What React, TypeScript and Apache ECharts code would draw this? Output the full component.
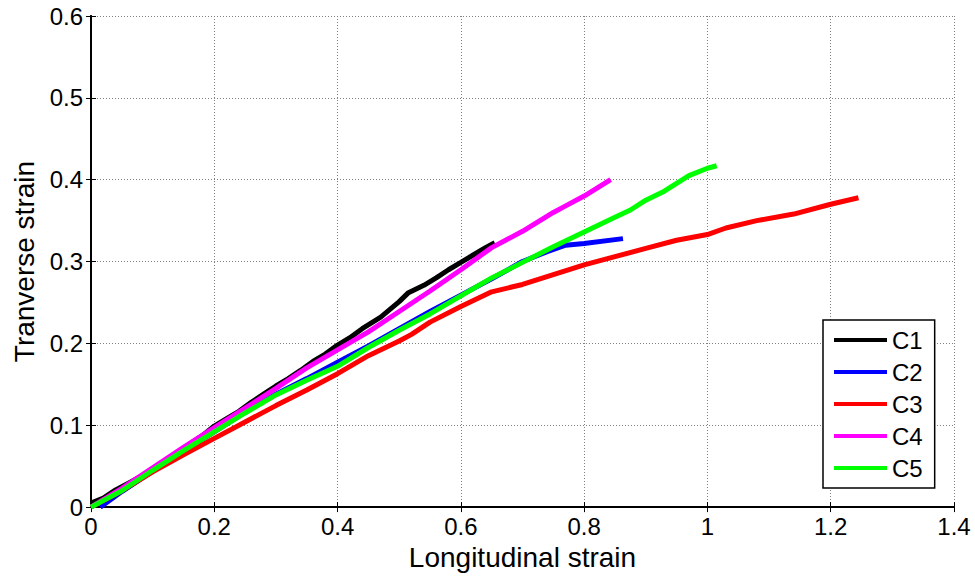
import React, { useEffect, useRef } from "react";
import * as echarts from "echarts";

const xTicks = [0, 0.2, 0.4, 0.6, 0.8, 1.0, 1.2, 1.4];
const yTicks = [0, 0.1, 0.2, 0.3, 0.4, 0.5, 0.6];

const c1: [number, number][] = [
  [0, 0.005], [0.02, 0.011], [0.04, 0.021], [0.06, 0.029], [0.08, 0.037], [0.1, 0.047],
  [0.12, 0.056], [0.14, 0.067], [0.16, 0.077], [0.18, 0.087], [0.2, 0.099], [0.22, 0.108],
  [0.24, 0.117], [0.26, 0.128], [0.28, 0.138], [0.3, 0.148], [0.32, 0.157], [0.34, 0.167],
  [0.36, 0.178], [0.38, 0.187], [0.4, 0.198], [0.42, 0.207], [0.44, 0.218], [0.47, 0.232],
  [0.5, 0.251], [0.515, 0.262], [0.54, 0.271], [0.56, 0.28], [0.58, 0.29], [0.6, 0.299],
  [0.62, 0.308], [0.64, 0.317], [0.655, 0.323],
];
const c2: [number, number][] = [
  [0.015, 0], [0.05, 0.019], [0.1, 0.044], [0.15, 0.069], [0.2, 0.092], [0.25, 0.116],
  [0.3, 0.138], [0.35, 0.157], [0.4, 0.177], [0.45, 0.197], [0.5, 0.218], [0.55, 0.239],
  [0.6, 0.259], [0.65, 0.279], [0.7, 0.3], [0.74, 0.312], [0.77, 0.32], [0.8, 0.322],
  [0.863, 0.328],
];
const c3: [number, number][] = [
  [0, 0], [0.05, 0.02], [0.1, 0.043], [0.15, 0.064], [0.2, 0.084], [0.25, 0.104],
  [0.3, 0.124], [0.35, 0.143], [0.4, 0.163], [0.45, 0.185], [0.5, 0.203], [0.52, 0.211],
  [0.55, 0.226], [0.6, 0.245], [0.65, 0.263], [0.7, 0.272], [0.75, 0.284], [0.8, 0.296],
  [0.85, 0.306], [0.9, 0.316], [0.95, 0.326], [1.0, 0.333], [1.03, 0.341], [1.08, 0.35],
  [1.14, 0.358], [1.2, 0.37], [1.245, 0.378],
];
const c4: [number, number][] = [
  [0, 0], [0.05, 0.023], [0.1, 0.048], [0.15, 0.073], [0.2, 0.097], [0.25, 0.121],
  [0.3, 0.145], [0.35, 0.17], [0.4, 0.192], [0.45, 0.214], [0.5, 0.239], [0.55, 0.264],
  [0.6, 0.29], [0.65, 0.317], [0.7, 0.337], [0.75, 0.36], [0.77, 0.368], [0.8, 0.38],
  [0.843, 0.4],
];
const c5: [number, number][] = [
  [0, 0], [0.05, 0.02], [0.1, 0.045], [0.15, 0.069], [0.2, 0.092], [0.25, 0.115],
  [0.3, 0.137], [0.35, 0.155], [0.4, 0.172], [0.45, 0.195], [0.5, 0.216], [0.55, 0.236],
  [0.6, 0.258], [0.65, 0.28], [0.7, 0.299], [0.75, 0.318], [0.8, 0.336], [0.85, 0.354],
  [0.875, 0.363], [0.9, 0.375], [0.93, 0.386], [0.97, 0.405], [1.0, 0.414], [1.015, 0.417],
];

const seriesNames = ["C1", "C2", "C3", "C4", "C5"];
const seriesColors = ["#000000", "#0000ff", "#ff0000", "#ff00ff", "#00ff00"];
const seriesData = [c1, c2, c3, c4, c5];

const FONT = "Arial, 'Liberation Sans', sans-serif";

export default function App() {
  const ref = useRef<HTMLDivElement>(null);
  useEffect(() => {
    if (!ref.current) return;
    const chart = echarts.init(ref.current, undefined, { renderer: "svg" });
    const hiddenAxisCommon = {
      axisLine: { show: true, lineStyle: { color: "#000", width: 2 } },
      axisTick: { show: true, inside: true, length: 5, lineStyle: { color: "#000" } },
      axisLabel: { show: false },
      splitLine: { show: false },
    };
    chart.setOption({
      animation: false,
      backgroundColor: "#fff",
      grid: { left: 91, right: 21, top: 16, bottom: 68, containLabel: false },
      xAxis: [
        {
          type: "value",
          min: 0,
          max: 1.4,
          interval: 0.2,
          name: "Longitudinal strain",
          nameLocation: "middle",
          nameGap: 33,
          nameTextStyle: { fontFamily: FONT, fontSize: 28, color: "#000" },
          axisLine: { show: true, lineStyle: { color: "#000", width: 2 } },
          axisTick: { show: true, inside: true, length: 5, lineStyle: { color: "#000" } },
          axisLabel: {
            fontFamily: FONT,
            fontSize: 24,
            color: "#000",
            margin: 7,
            formatter: (v: number) => {
              const i = xTicks.findIndex((t) => Math.abs(t - v) < 1e-6);
              return i >= 0 ? String(xTicks[i]) : "";
            },
          },
          splitLine: { show: true, lineStyle: { color: "#808080", type: [1, 2], width: 1 } },
        },
        { type: "value", position: "top", min: 0, max: 1.4, interval: 0.2, ...hiddenAxisCommon },
      ],
      yAxis: [
        {
          type: "value",
          min: 0,
          max: 0.6,
          interval: 0.1,
          name: "Tranverse strain",
          nameLocation: "middle",
          nameGap: 52,
          nameTextStyle: { fontFamily: FONT, fontSize: 28, color: "#000" },
          axisLine: { show: true, lineStyle: { color: "#000", width: 2 } },
          axisTick: { show: true, inside: true, length: 5, lineStyle: { color: "#000" } },
          axisLabel: {
            fontFamily: FONT,
            fontSize: 24,
            color: "#000",
            margin: 8,
            formatter: (v: number) => {
              const i = yTicks.findIndex((t) => Math.abs(t - v) < 1e-6);
              return i >= 0 ? String(yTicks[i]) : "";
            },
          },
          splitLine: { show: true, lineStyle: { color: "#808080", type: [1, 2], width: 1 } },
        },
        { type: "value", position: "right", min: 0, max: 0.6, interval: 0.1, ...hiddenAxisCommon },
      ],
      legend: {
        orient: "vertical",
        left: 823,
        top: 320,
        icon: "rect",
        itemWidth: 53,
        itemHeight: 4,
        itemGap: 8,
        padding: [8, 12, 8, 11],
        borderColor: "#000",
        borderWidth: 1.5,
        backgroundColor: "#fff",
        textStyle: { fontFamily: FONT, fontSize: 24, color: "#000", lineHeight: 24 },
        data: seriesNames,
      },
      series: seriesData.map((d, i) => ({
        name: seriesNames[i],
        type: "line",
        data: d,
        showSymbol: false,
        symbol: "none",
        lineStyle: { color: seriesColors[i], width: 5 },
        itemStyle: { color: seriesColors[i] },
        z: 2 + i,
      })),
    });
    return () => chart.dispose();
  }, []);
  return <div ref={ref} style={{ width: 975, height: 576, position: "absolute", left: 0, top: 0 }} />;
}
